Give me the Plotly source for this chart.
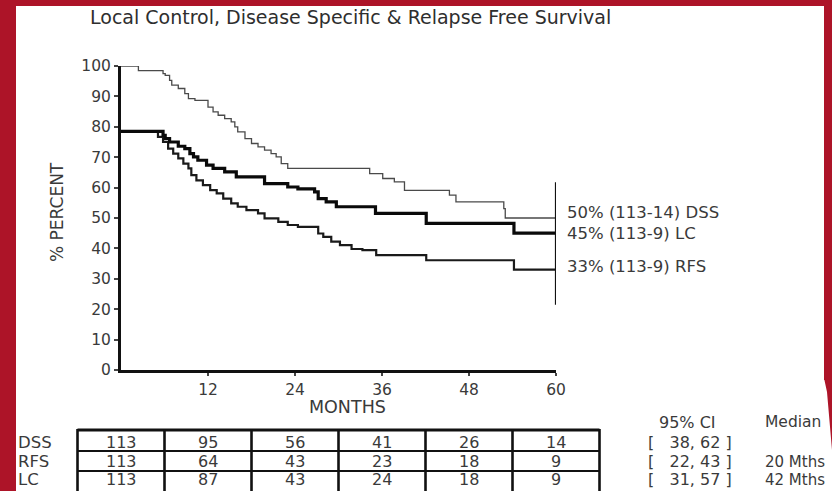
import plotly.graph_objects as go

# ---------------- data ----------------
dss_months = [0, 2.4, 5.8, 6.1, 6.7, 7.0, 7.9, 8.8, 9.3, 10.2, 12.0, 12.7, 13.4, 14.3, 15.2, 15.7,
              16.1, 17.1, 18.0, 18.9, 19.8, 20.7, 21.4, 22.1, 23.0, 34.3, 36.1, 37.7, 39.1,
              45.3, 46.2, 52.8, 53.0, 60]
dss_pct = [100, 98.5, 97.5, 96.9, 95.3, 93.7, 92.6, 90.9, 89.3, 88.7, 86.5, 84.9, 83.8, 82.7, 81.6, 80.0,
           78.3, 76.1, 74.5, 73.4, 72.3, 71.2, 70.1, 67.9, 66.3, 64.6, 63.0, 61.9, 59.1,
           57.5, 55.3, 53.1, 50.0, 50.0]

lc_months = [0, 5.8, 6.1, 6.7, 7.9, 8.8, 9.5, 10.0, 10.6, 11.8, 12.7, 14.3, 15.9, 19.8, 23.0,
             24.4, 26.7, 27.2, 28.3, 29.7, 35.1, 42.1, 54.2, 60]
lc_pct = [78.5, 77.2, 76.1, 75.0, 73.6, 72.8, 71.2, 70.1, 69.0, 67.4, 66.3, 65.2, 63.5, 61.3, 60.2,
          59.6, 58.6, 56.4, 55.3, 53.7, 51.5, 48.2, 45.0, 45.0]

rfs_months = [0, 5.1, 5.8, 6.5, 7.2, 7.9, 8.6, 9.3, 9.7, 10.4, 11.3, 12.3, 13.2, 14.1, 15.2, 16.1,
              17.3, 18.9, 19.8, 21.7, 23.0, 24.4, 27.2, 27.9, 29.0, 30.2, 31.8, 33.3, 35.2,
              42.1, 54.2, 60]
rfs_pct = [78.5, 76.7, 75.0, 72.8, 71.2, 69.6, 67.9, 66.3, 64.1, 62.4, 60.8, 59.2, 58.1, 56.4, 54.8, 53.7,
           52.6, 51.5, 49.9, 48.7, 47.7, 47.1, 44.9, 43.8, 42.2, 41.1, 39.8, 39.4, 37.8,
           36.1, 33.0, 33.0]

bar_month = [60, 60]
bar_pct = [21.5, 61.8]

end_labels = ["50% (113-14) DSS", "45% (113-9) LC", "33% (113-9) RFS"]
end_values = [50, 45, 33]

y_ticks = [0, 10, 20, 30, 40, 50, 60, 70, 80, 90, 100]
x_ticks = [12, 24, 36, 48, 60]

table_months = [0, 12, 24, 36, 48, 60]
table_rows = ["DSS", "RFS", "LC"]
at_risk_dss = [113, 95, 56, 41, 26, 14]
at_risk_rfs = [113, 64, 43, 23, 18, 9]
at_risk_lc = [113, 87, 43, 24, 18, 9]
ci_low = [38, 22, 31]
ci_high = [62, 43, 57]
median_text = ["", "20 Mths", "42 Mths"]

# ---------------- layout geometry ----------------
W, H = 832, 491
ML, MR, MT, MB = 121, 276, 66, 121
PW, PH = W - ML - MR, H - MT - MB
FONT = "DejaVu Sans, Verdana, sans-serif"
TXT = "#3a3a3a"
RED = "#ad1428"
NB = "\u00a0"


def px(x):
    return (x - ML) / PW


def py(y):
    return (H - MB - y) / PH


fig = go.Figure()
fig.add_trace(go.Scatter(x=dss_months, y=dss_pct, mode="lines", line_shape="hv",
                         line=dict(color="#4a4a4a", width=1.3), name="DSS"))
fig.add_trace(go.Scatter(x=rfs_months, y=rfs_pct, mode="lines", line_shape="hv",
                         line=dict(color="#1a1a1a", width=2.2), name="RFS"))
fig.add_trace(go.Scatter(x=lc_months, y=lc_pct, mode="lines", line_shape="hv",
                         line=dict(color="#0a0a0a", width=3.2), name="LC"))
fig.add_trace(go.Scatter(x=bar_month, y=bar_pct, mode="lines",
                         line=dict(color="#111", width=2.2), name="bar"))

ann = []
# end labels
shifts = [6, 0, 3]
for lab, v, s in zip(end_labels, end_values, shifts):
    ann.append(dict(x=60, y=v, xref="x", yref="y", text=lab, showarrow=False,
                    xanchor="left", yanchor="middle", xshift=9, yshift=s,
                    font=dict(family=FONT, size=16.5, color=TXT)))

# title
ann.append(dict(x=px(88), y=py(17), xref="paper", yref="paper", xanchor="left", yanchor="middle",
                text="Local Control, Disease Specific & Relapse Free Survival", showarrow=False,
                font=dict(family=FONT, size=19, color="#2e2e2e")))
# axis titles
ann.append(dict(x=px(347), y=py(407), xref="paper", yref="paper", text="MONTHS", showarrow=False,
                xanchor="center", yanchor="middle", font=dict(family=FONT, size=17.5, color=TXT)))
ann.append(dict(x=px(57), y=py(212), xref="paper", yref="paper", text="% PERCENT", showarrow=False,
                textangle=-90, xanchor="center", yanchor="middle",
                font=dict(family=FONT, size=17, color=TXT)))

# table
row_y = [442, 461.5, 479.5]
all_counts = [at_risk_dss, at_risk_rfs, at_risk_lc]
for name, yy, counts, lo, hi, med in zip(table_rows, row_y, all_counts, ci_low, ci_high, median_text):
    ann.append(dict(x=px(16), y=py(yy), xref="paper", yref="paper", text=name, showarrow=False,
                    xanchor="left", yanchor="middle", font=dict(family=FONT, size=16.5, color=TXT)))
    for m, c in zip(table_months, counts):
        ann.append(dict(x=m, y=py(yy), xref="x", yref="paper", text=str(c), showarrow=False,
                        xanchor="center", yanchor="middle",
                        font=dict(family=FONT, size=16, color=TXT)))
    ci = "[" + NB * 3 + "{}, {}".format(lo, hi) + NB + "]"
    ann.append(dict(x=px(646), y=py(yy), xref="paper", yref="paper", text=ci, showarrow=False,
                    xanchor="left", yanchor="middle", font=dict(family=FONT, size=16, color=TXT)))
    if med:
        ann.append(dict(x=px(763), y=py(yy), xref="paper", yref="paper", text=med,
                        showarrow=False, xanchor="left", yanchor="middle",
                        font=dict(family=FONT, size=15, color=TXT)))
ann.append(dict(x=px(687), y=py(422), xref="paper", yref="paper", text="95% CI", showarrow=False,
                xanchor="center", yanchor="middle", font=dict(family=FONT, size=16, color=TXT)))
ann.append(dict(x=px(763), y=py(422), xref="paper", yref="paper", text="Median", showarrow=False,
                xanchor="left", yanchor="middle", font=dict(family=FONT, size=15.5, color=TXT)))

shapes = []
step = table_months[1] - table_months[0]
left_m = table_months[0] - step / 2
right_m = table_months[-1] + step / 2
tx0, tx1 = left_m / 60, right_m / 60
for yy, w in [(430, 3), (451, 2.2), (471, 2.2), (493, 3)]:
    shapes.append(dict(type="line", xref="paper", yref="paper", x0=tx0, x1=tx1, y0=py(yy), y1=py(yy),
                       line=dict(color="#111", width=w)))
for i in range(len(table_months) + 1):
    xm = (left_m + i * step) / 60
    shapes.append(dict(type="line", xref="paper", yref="paper", x0=xm, x1=xm, y0=py(429), y1=py(495),
                       line=dict(color="#111", width=2.6)))

# red page frame
def rect(x0, y0, x1, y1):
    return dict(type="rect", xref="paper", yref="paper", x0=px(x0), x1=px(x1), y0=py(y1), y1=py(y0),
                fillcolor=RED, line=dict(width=0), layer="above")


shapes.append(rect(0, 0, 16, H))
shapes.append(rect(0, 0, W, 6))
shapes.append(rect(824, 0, W, 380))
path = "M {} {} L {} {} L {} {} L {} {} Z".format(px(824), py(378), px(W), py(378), px(W), py(450),
                                                  px(827), py(392))
shapes.append(dict(type="path", xref="paper", yref="paper", path=path, fillcolor=RED,
                   line=dict(width=0), layer="above"))

fig.update_layout(
    width=W, height=H, autosize=False,
    margin=dict(l=ML, r=MR, t=MT, b=MB, pad=0),
    paper_bgcolor="white", plot_bgcolor="white",
    showlegend=False,
    annotations=ann, shapes=shapes,
    xaxis=dict(range=[0, 60], tickvals=x_ticks, ticktext=[str(t) for t in x_ticks],
               showgrid=False, zeroline=False, showline=True, linecolor="#111", linewidth=3,
               ticks="outside", ticklen=3, tickwidth=2, tickcolor="#444",
               tickfont=dict(family=FONT, size=15.5, color=TXT), fixedrange=True),
    yaxis=dict(range=[0, 100], tickvals=y_ticks, showgrid=False, zeroline=False, showline=True,
               linecolor="#111", linewidth=3, ticks="outside", ticklen=4, tickwidth=2,
               tickcolor="#444", tickfont=dict(family=FONT, size=15.5, color=TXT), fixedrange=True),
)

fig.write_html("out.html")
